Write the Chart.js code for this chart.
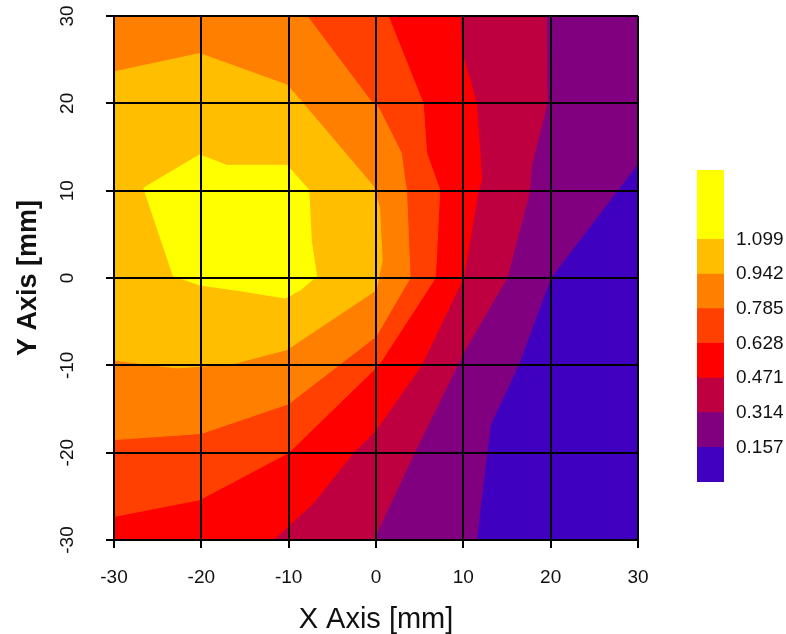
<!DOCTYPE html>
<html>
<head>
<meta charset="utf-8">
<script src="https://cdn.jsdelivr.net/npm/chart.js@4/dist/chart.umd.min.js"></script>
<style>
  body { margin: 0; background: #fff; }
  #wrap { position: relative; width: 786px; height: 634px; }
  #contour { position: absolute; left: 0; top: 0; }
  #colorbar { position: absolute; left: 690px; top: 140px; }
</style>
</head>
<body>
<div id="wrap">
  <canvas id="contour" width="786" height="634"></canvas>
  <canvas id="colorbar" width="96" height="372"></canvas>
</div>
<script>
// axis ticks
const xTicks = [-30, -20, -10, 0, 10, 20, 30];
const yTicks = [-30, -20, -10, 0, 10, 20, 30];
const yTickLabels = ['-30', '-20', '-10', '0', '10', '20', '30'];

// contour levels (legend) and the fill colour of each band
const levels = [0, 0.157, 0.314, 0.471, 0.628, 0.785, 0.942, 1.099, 1.413];
const legendTicks = [0.157, 0.314, 0.471, 0.628, 0.785, 0.942, 1.099];
const levelColors = ['#4000BF', '#800080', '#BF0040', '#FF0000', '#FF4000', '#FF8000', '#FFBF00', '#FFFF00'];

// regions where value >= level as [x mm, y mm]
const above0000 = [[-30, -30], [30, -30], [30, 30], [-30, 30]];
const above0157 = [[-30, 30], [30, 30], [30, 13.1], [20, 0], [16.3, -10], [13.1, -16.8],
  [12.7, -20], [11.5, -30], [-30, -30]];
const above0314 = [[-30, 30], [19.5, 30], [19.6, 20], [17.8, 12.8], [17.6, 10], [15, 0],
  [10.2, -8.2], [4.4, -20], [-0.3, -30], [-30, -30]];
const above0471 = [[-30, 30], [9.6, 30], [9.8, 26], [11.5, 20], [12.1, 11.2], [11.7, 10],
  [10, 0], [7.6, -5], [5.2, -10], [0, -17.4], [-2.6, -20], [-7.2, -25.8], [-11.8, -30], [-30, -30]];
const above0628 = [[-30, 30], [1.4, 30], [5.4, 20], [5.8, 14.3], [7.3, 10.1], [6.8, 0],
  [0.3, -10], [-10, -20], [-20.2, -25.4], [-30, -27.3]];
const above0785 = [[-30, 30], [-7.9, 30], [-0.7, 20.4], [0.3, 19.5], [2.9, 14.3], [3.3, 11.2],
  [3.5, 10], [3.9, 0], [0, -6.7], [-10, -14.4], [-20, -17.8], [-30, -18.5]];
const above0942 = [[-30, 23.6], [-20.2, 25.7], [-10.2, 22.1], [-8.7, 20.4], [-0.3, 10.5],
  [0.4, 8], [0.7, 2], [0, -1.4], [-10.2, -8.2], [-16.3, -9.8], [-22.8, -10.3], [-30, -9.4]];
const above1099 = [[-26.6, 10.3], [-20.2, 14.1], [-17.1, 12.9], [-10.2, 12.9], [-7.7, 10.1],
  [-7.4, 4.2], [-6.8, 0.2], [-8.7, -1.4], [-10.4, -2.3], [-15.6, -1.45], [-20.2, -0.8],
  [-21.9, -0.2], [-23.2, 0.2]];

const regions = [above0000, above0157, above0314, above0471, above0628, above0785, above0942, above1099];

const FONT = '"Liberation Sans", Arial, sans-serif';

// closed polygon as scatter points
function toPoints(poly) {
    const pts = poly.map(p => ({ x: p[0], y: p[1] }));
    pts.push({ x: poly[0][0], y: poly[0][1] });
    return pts;
}

const contourSets = regions.map((poly, i) => ({
    data: toPoints(poly),
    showLine: true,
    fill: 'shape',
    backgroundColor: levelColors[i],
    borderColor: levelColors[i],
    borderWidth: 1,
    tension: 0,
    pointRadius: 0,
    pointHoverRadius: 0,
    order: regions.length - i // lowest level painted first
}));

// rotated labels on the y axis, placed with the y scale
const yTickLabelPlugin = {
    id: 'yTickLabels',
    afterDraw(chart) {
        const { ctx, scales: { y } } = chart;
        ctx.save();
        ctx.font = '19px ' + FONT;
        ctx.fillStyle = '#111';
        ctx.textAlign = 'center';
        ctx.textBaseline = 'middle';
        yTicks.forEach((v, i) => {
            ctx.save();
            ctx.translate(68, y.getPixelForValue(v));
            ctx.rotate(-Math.PI / 2);
            ctx.fillText(yTickLabels[i], 0, 0);
            ctx.restore();
        });
        ctx.restore();
    }
};

new Chart(document.getElementById('contour'), {
    type: 'scatter',
    data: { datasets: contourSets },
    plugins: [yTickLabelPlugin],
    options: {
        responsive: false,
        animation: false,
        events: [],
        layout: { autoPadding: false, padding: { left: 0, right: 148, top: 16, bottom: 0 } },
        plugins: { legend: { display: false }, tooltip: { enabled: false } },
        scales: {
            x: {
                type: 'linear',
                min: -30,
                max: 30,
                afterFit: s => { s.height = 94; },
                afterBuildTicks: s => { s.ticks = xTicks.map(v => ({ value: v })); },
                grid: { color: '#000', lineWidth: 2, tickLength: 8, z: 1 },
                border: { color: '#000', width: 2, z: 1 },
                ticks: { color: '#111', font: { family: FONT, size: 19 }, padding: 18, maxRotation: 0 },
                title: {
                    display: true,
                    text: 'X Axis [mm]',
                    color: '#111',
                    font: { family: FONT, size: 29, lineHeight: 1 },
                    padding: { top: 0, bottom: 0 }
                }
            },
            y: {
                type: 'linear',
                min: -30,
                max: 30,
                afterFit: s => { s.width = 114; },
                afterBuildTicks: s => { s.ticks = yTicks.map(v => ({ value: v })); },
                grid: { color: '#000', lineWidth: 2, tickLength: 8, z: 1 },
                border: { color: '#000', width: 2, z: 1 },
                ticks: { display: false },
                title: {
                    display: true,
                    text: 'Y Axis [mm]',
                    color: '#111',
                    font: { family: FONT, size: 27, weight: 'bold', lineHeight: 1 },
                    padding: { top: 15, bottom: 0 }
                }
            }
        }
    }
});

// colour key: one floating bar per band
const bandSets = levelColors.map((c, i) => ({
    data: [[levels[i], levels[i + 1]]],
    backgroundColor: c,
    borderWidth: 0,
    grouped: false,
    barPercentage: 1,
    categoryPercentage: 1
}));

new Chart(document.getElementById('colorbar'), {
    type: 'bar',
    data: { labels: [''], datasets: bandSets },
    options: {
        responsive: false,
        animation: false,
        events: [],
        layout: { padding: { left: 7, right: 0, top: 30, bottom: 30 } },
        plugins: { legend: { display: false }, tooltip: { enabled: false } },
        scales: {
            x: { display: false },
            y: {
                position: 'right',
                min: levels[0],
                max: levels[levels.length - 1],
                afterFit: s => { s.width = 62; },
                afterBuildTicks: s => { s.ticks = legendTicks.map(v => ({ value: v })); },
                grid: { display: false, drawTicks: false },
                border: { display: false },
                ticks: {
                    color: '#111',
                    padding: 12,
                    font: { family: FONT, size: 19 },
                    callback: v => Number(v).toFixed(3)
                }
            }
        }
    }
});
</script>
</body>
</html>
